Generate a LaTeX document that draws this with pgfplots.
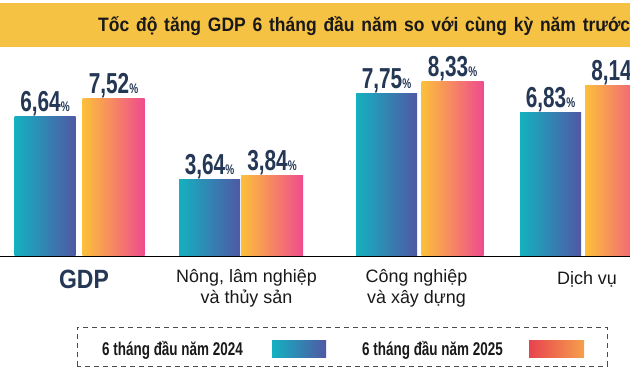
\documentclass[border=0pt]{standalone}
\usepackage{pgfplots}
\pgfplotsset{compat=1.18}
\usepackage{fontspec}
\setmainfont{Liberation Sans}
\newfontfamily\titlefont[FakeStretch=0.9,WordSpace=1.4]{Liberation Sans}
\newfontfamily\valfont[FakeStretch=0.72]{Liberation Sans}
\newfontfamily\catfont{Liberation Sans}
\newfontfamily\gdpfont[FakeStretch=0.87]{Liberation Sans}
\newfontfamily\legfont[FakeStretch=0.73]{Liberation Sans}
\definecolor{navy}{HTML}{243755}
\definecolor{tealL}{HTML}{14B1C0}
\definecolor{blueR}{HTML}{5058A4}
\definecolor{orangeL}{HTML}{FCC03A}
\definecolor{pinkR}{HTML}{EF4B8E}
\definecolor{legRedL}{HTML}{E8424E}
\definecolor{legOrR}{HTML}{F5A04C}
\definecolor{banner}{HTML}{F6C244}
\begin{document}
\begin{tikzpicture}[x=1bp,y=1bp]
\path[use as bounding box, clip] (0,0) rectangle (630,378);
\fill[white] (0,0) rectangle (630,378);
\fill[banner] (0,331) rectangle (630,375);
\node[anchor=base west, inner sep=0pt, text=black!90] at (98,347)
  {\titlefont\bfseries\fontsize{19.5}{21}\selectfont Tốc độ tăng GDP 6 tháng đầu năm so với cùng kỳ năm trước};
\begin{axis}[
  at={(0,0)}, anchor=south west,
  scale only axis, width=630bp, height=378bp,
  xmin=0, xmax=630, ymin=-5.81, ymax=12.19,
  hide axis, clip=false,
  s24/.style={ybar, bar width=61, bar shift=0pt, draw=none, left color=tealL, right color=blueR},
  s25/.style={ybar, bar width=62, bar shift=0pt, draw=none, left color=orangeL, right color=pinkR},
  vlab/.style={draw=none, mark=none,
    nodes near coords={\pgfmathprintnumber[fixed,fixed zerofill,precision=2,use comma,assume math mode=true]{\pgfplotspointmeta}{\fontsize{14}{14}\selectfont\%}},
    every node near coord/.append style={font=\valfont\bfseries\fontsize{29}{30}\selectfont, text=navy, anchor=base, yshift=5bp, inner sep=0pt}},
]
% 6 thang dau nam 2024
\addplot[s24] coordinates {(45,6.64)};
\addplot[s24] coordinates {(209.5,3.64)};
\addplot[s24] coordinates {(386.5,7.75)};
\addplot[s24] coordinates {(550.5,6.83)};
% 6 thang dau nam 2025
\addplot[s25] coordinates {(113.5,7.52)};
\addplot[s25] coordinates {(272,3.84)};
\addplot[s25] coordinates {(452.5,8.33)};
\addplot[s25] coordinates {(616,8.14)};
% value labels
\addplot[vlab] coordinates {(45,6.64) (209.5,3.64) (386.5,7.75) (550.5,6.83)};
\addplot[vlab] coordinates {(113.5,7.52) (272,3.84) (452.5,8.33) (616,8.14)};
\draw[black, line width=0.9pt] (axis cs:0,0) -- (axis cs:630,0);
\end{axis}
% category labels
\node[anchor=base, inner sep=0pt, text=navy] at (84,90) {\gdpfont\bfseries\fontsize{26.5}{28}\selectfont GDP};
\begin{scope}[every node/.style={anchor=base, inner sep=0pt, text=black!90, font=\catfont\fontsize{18}{20}\selectfont}]
\node at (246.5,96) {Nông, lâm nghiệp};
\node at (246.5,75) {và thủy sản};
\node at (416.5,96) {Công nghiệp};
\node at (416.5,75) {và xây dựng};
\node at (587,94) {Dịch vụ};
\end{scope}
% legend
\draw[dash pattern=on 5bp off 4bp, gray!60!black, line width=0.8pt] (77,12) rectangle (607,51);
\begin{scope}[every node/.style={anchor=base west, inner sep=0pt, text=black!90, font=\legfont\bfseries\fontsize{18.5}{20}\selectfont}]
\node at (102,23) {6 tháng đầu năm 2024};
\node at (362,23) {6 tháng đầu năm 2025};
\end{scope}
\shade[left color=tealL, right color=blueR] (272,21) rectangle (326,38);
\shade[left color=legRedL, right color=legOrR] (529,21) rectangle (584,38);
\end{tikzpicture}
\end{document}
